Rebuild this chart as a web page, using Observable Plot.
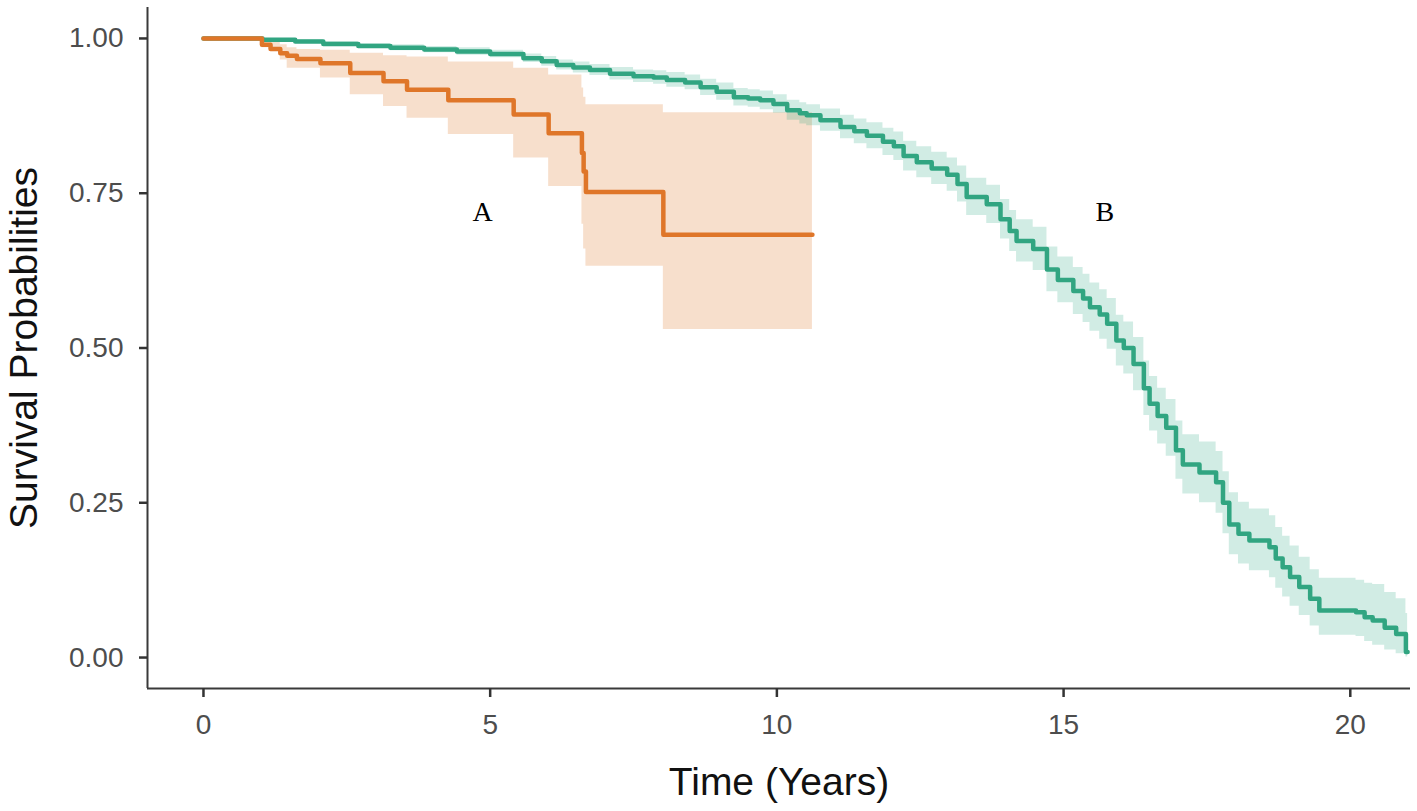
<!DOCTYPE html>
<html>
<head>
<meta charset="utf-8">
<script src="https://cdn.jsdelivr.net/npm/d3@7"></script>
<script src="https://cdn.jsdelivr.net/npm/@observablehq/plot@0.6"></script>
<style>
  html, body { margin: 0; padding: 0; background: #fff; }
</style>
</head>
<body>
<div id="chart"></div>
<script>
// ---- Group A (Kaplan–Meier estimate with CI) ----
const timeA  = [0, 1.02, 1.17, 1.34, 1.46, 1.63, 2.04, 2.56, 3.14, 3.55, 4.27, 5.41, 6.02, 6.60, 6.63, 6.67, 8.02, 10.62];
const survA  = [1.000, 0.990, 0.983, 0.976, 0.972, 0.967, 0.960, 0.944, 0.931, 0.917, 0.900, 0.877, 0.847, 0.815, 0.785, 0.752, 0.683, 0.683];
const lowerA = [1.000, 0.985, 0.981, 0.965, 0.952, 0.952, 0.936, 0.909, 0.890, 0.871, 0.845, 0.807, 0.761, 0.700, 0.660, 0.632, 0.530, 0.530];
const upperA = [1.000, 1.000, 0.995, 0.990, 0.985, 0.982, 0.981, 0.976, 0.972, 0.970, 0.962, 0.952, 0.941, 0.920, 0.905, 0.893, 0.880, 0.880];

// ---- Group B ----
const timeB  = [0, 1.03, 1.60, 2.09, 2.70, 3.26, 3.85, 4.42, 5.00, 5.58, 5.90, 6.16, 6.45, 6.74, 7.09, 7.50, 7.85, 8.08, 8.40, 8.67, 8.95, 9.25, 9.50, 9.71, 9.94, 10.18, 10.40, 10.52, 10.76, 11.11, 11.35, 11.57, 11.85, 12.04, 12.21, 12.44, 12.70, 12.97, 13.15, 13.31, 13.66, 13.90, 14.06, 14.18, 14.47, 14.71, 14.90, 15.17, 15.34, 15.46, 15.63, 15.76, 15.92, 16.05, 16.22, 16.40, 16.50, 16.64, 16.79, 16.96, 17.08, 17.37, 17.66, 17.78, 17.89, 18.05, 18.24, 18.59, 18.70, 18.82, 18.95, 19.11, 19.30, 19.46, 20.10, 20.25, 20.39, 20.60, 20.80, 20.97, 21.00];
const survB  = [1.000, 0.998, 0.995, 0.991, 0.988, 0.985, 0.982, 0.979, 0.975, 0.968, 0.963, 0.957, 0.953, 0.949, 0.943, 0.939, 0.937, 0.933, 0.929, 0.921, 0.914, 0.905, 0.903, 0.900, 0.894, 0.884, 0.879, 0.876, 0.868, 0.857, 0.850, 0.843, 0.833, 0.826, 0.810, 0.800, 0.790, 0.780, 0.765, 0.744, 0.732, 0.708, 0.689, 0.673, 0.660, 0.627, 0.610, 0.592, 0.580, 0.566, 0.554, 0.539, 0.512, 0.500, 0.474, 0.435, 0.410, 0.390, 0.371, 0.335, 0.312, 0.299, 0.283, 0.250, 0.215, 0.200, 0.189, 0.178, 0.160, 0.146, 0.130, 0.114, 0.095, 0.076, 0.073, 0.065, 0.060, 0.048, 0.038, 0.009, 0.009];
const lowerB = [1.000, 0.996, 0.992, 0.987, 0.984, 0.980, 0.977, 0.973, 0.969, 0.961, 0.955, 0.949, 0.944, 0.940, 0.933, 0.929, 0.926, 0.921, 0.917, 0.908, 0.900, 0.891, 0.889, 0.885, 0.879, 0.868, 0.862, 0.859, 0.850, 0.838, 0.830, 0.822, 0.811, 0.803, 0.786, 0.775, 0.764, 0.753, 0.736, 0.714, 0.701, 0.676, 0.656, 0.639, 0.625, 0.591, 0.573, 0.554, 0.541, 0.527, 0.514, 0.498, 0.471, 0.458, 0.431, 0.391, 0.366, 0.345, 0.325, 0.288, 0.264, 0.250, 0.233, 0.200, 0.166, 0.151, 0.140, 0.129, 0.112, 0.098, 0.083, 0.068, 0.051, 0.036, 0.034, 0.026, 0.020, 0.012, 0.006, 0.001, 0.001];
const upperB = [1.000, 1.000, 0.998, 0.995, 0.992, 0.990, 0.987, 0.985, 0.981, 0.975, 0.971, 0.965, 0.962, 0.958, 0.953, 0.949, 0.948, 0.945, 0.941, 0.934, 0.928, 0.919, 0.917, 0.915, 0.909, 0.900, 0.896, 0.893, 0.886, 0.876, 0.870, 0.864, 0.855, 0.849, 0.834, 0.825, 0.816, 0.807, 0.794, 0.774, 0.763, 0.740, 0.722, 0.707, 0.695, 0.663, 0.647, 0.630, 0.619, 0.605, 0.594, 0.580, 0.553, 0.542, 0.517, 0.479, 0.454, 0.435, 0.417, 0.382, 0.360, 0.348, 0.333, 0.300, 0.266, 0.251, 0.240, 0.229, 0.210, 0.196, 0.180, 0.162, 0.142, 0.128, 0.125, 0.120, 0.118, 0.105, 0.095, 0.071, 0.071];

// ---- Annotation labels ----
const groupNames = ["A", "B"];
const groupLabelX = [4.87, 15.72];
const groupLabelY = [0.719, 0.720];

// ---- Axes ----
const xTicks = [0, 5, 10, 15, 20];
const yTicks = [0, 0.25, 0.50, 0.75, 1.00];
const xDomain = [-0.976, 21.05];
const yDomain = [-0.05, 1.05];
const xTitle = "Time (Years)";
const yTitle = "Survival Probabilities";

const colorA = "#df7629", fillA = "#D95F02";
const colorB = "#31a581", fillB = "#1B9E77";

const A = timeA.map((t, i) => ({t, s: survA[i], lo: lowerA[i], hi: upperA[i]}));
const B = timeB.map((t, i) => ({t, s: survB[i], lo: lowerB[i], hi: upperB[i]}));
const labels = groupNames.map((n, i) => ({n, x: groupLabelX[i], y: groupLabelY[i]}));

const chart = Plot.plot({
  width: 1417,
  height: 811,
  marginLeft: 147,
  marginRight: 7,
  marginTop: 7,
  marginBottom: 123,
  x: {domain: xDomain, label: null},
  y: {domain: yDomain, label: null},
  style: {fontFamily: "'Liberation Sans', Arial, sans-serif", background: "#fff"},
  marks: [
    Plot.areaY(A, {x: "t", y1: "lo", y2: "hi", curve: "step-after", fill: fillA, fillOpacity: 0.2}),
    Plot.areaY(B, {x: "t", y1: "lo", y2: "hi", curve: "step-after", fill: fillB, fillOpacity: 0.2}),
    Plot.lineY(B, {x: "t", y: "s", curve: "step-after", stroke: colorB, strokeWidth: 4.5}),
    Plot.lineY(A, {x: "t", y: "s", curve: "step-after", stroke: colorA, strokeWidth: 4.5}),
    Plot.text(labels, {x: "x", y: "y", text: "n", fontFamily: "'Liberation Serif', 'Times New Roman', serif", fontSize: 28, fill: "#000"}),
    Plot.ruleX([xDomain[0]], {stroke: "#3a3a3a", strokeWidth: 2}),
    Plot.ruleY([yDomain[0]], {stroke: "#3a3a3a", strokeWidth: 2}),
    Plot.axisY({ticks: yTicks, tickFormat: d3.format(".2f"), tickSize: 8, tickPadding: 16, fontSize: 28, stroke: "#333", strokeWidth: 2.5, fill: "#4d4d4d", label: null}),
    Plot.axisX({ticks: xTicks, tickFormat: d3.format("d"), tickSize: 9, tickPadding: 17, fontSize: 28, stroke: "#333", strokeWidth: 2.5, fill: "#4d4d4d", label: null}),
    Plot.text([yTitle], {frameAnchor: "left", textAnchor: "middle", lineAnchor: "middle", rotate: -90, dx: -123, fontSize: 39, fill: "#111"}),
    Plot.text([xTitle], {frameAnchor: "bottom", textAnchor: "middle", lineAnchor: "middle", dy: 94, fontSize: 39, fill: "#111"})
  ]
});
document.getElementById("chart").appendChild(chart);
</script>
</body>
</html>
